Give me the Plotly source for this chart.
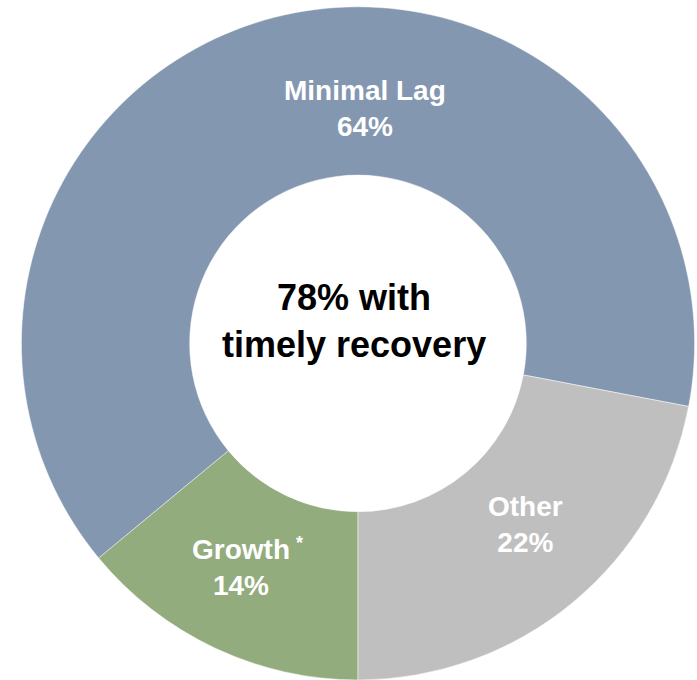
import plotly.graph_objects as go

# Data
categories = ["Growth", "Minimal Lag", "Other"]
values = [14, 64, 22]
colors = ["#93AC7D", "#8497B0", "#BFBFBF"]
center_text = "78% with<br>timely recovery"

W, H = 697, 680

fig = go.Figure()
fig.add_trace(go.Pie(
    labels=categories,
    values=values,
    sort=False,
    direction="clockwise",
    rotation=180,
    hole=0.5,
    marker=dict(colors=colors, line=dict(color="rgba(255,255,255,0.6)", width=0.8)),
    textinfo="none",
    hoverinfo="label+percent",
    showlegend=False,
    domain=dict(x=[21 / W, 695 / W], y=[0.0, 0.99]),
))

# label positions (pixels from top-left)
label_pos = {"Minimal Lag": (365, 108), "Other": (525, 524), "Growth": (241, 567)}
total = sum(values)
font_family = "Arial, Liberation Sans, sans-serif"
for cat, val in zip(categories, values):
    px, py = label_pos[cat]
    fig.add_annotation(
        x=px / W, y=1 - py / H, xref="paper", yref="paper",
        text=f"<b>{cat}<br>{round(100 * val / total)}%</b>",
        showarrow=False, xanchor="center", yanchor="middle",
        font=dict(family=font_family, size=28, color="white"),
    )

# asterisk for Growth
fig.add_annotation(
    x=299 / W, y=1 - 543 / H, xref="paper", yref="paper",
    text="<b>*</b>", showarrow=False, xanchor="center", yanchor="middle",
    font=dict(family=font_family, size=18, color="white"),
)

# center text
fig.add_annotation(
    x=354 / W, y=1 - 321 / H, xref="paper", yref="paper",
    text=f"<b>{center_text}</b>", showarrow=False, xanchor="center", yanchor="middle",
    font=dict(family=font_family, size=36, color="black"),
)

fig.update_layout(
    width=W, height=H,
    margin=dict(l=0, r=0, t=0, b=0),
    paper_bgcolor="white", plot_bgcolor="white",
)

fig.write_html(
    "out.html",
    config={"displayModeBar": False},
    post_script="document.body.style.margin='0';document.body.style.overflow='hidden';",
)
